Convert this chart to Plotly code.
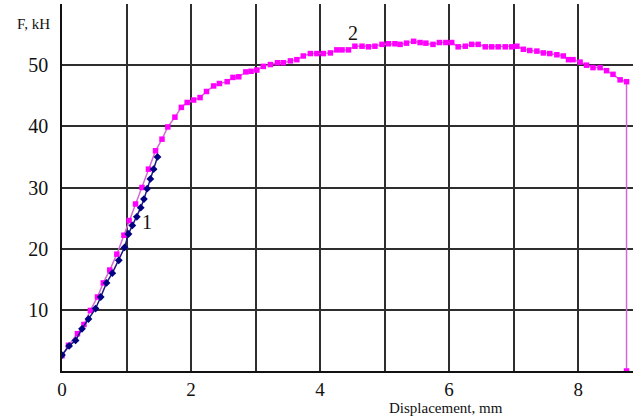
import plotly.graph_objects as go

# Curve 1: load vs displacement
disp_1 = [0, 0.11, 0.21, 0.31, 0.41, 0.52, 0.60, 0.69, 0.78, 0.88, 0.97, 1.03,
          1.09, 1.16, 1.22, 1.27, 1.32, 1.37, 1.42, 1.48]
force_1 = [2.6, 4.1, 5.0, 6.9, 8.5, 10.2, 12.1, 14.4, 16.0, 18.1, 20.2, 22.4,
           23.8, 25.2, 26.7, 28.1, 29.8, 31.4, 33.0, 35.0]

# Curve 2: load vs displacement up to failure
disp_2 = [0, 0.10, 0.24, 0.34, 0.44, 0.55, 0.64, 0.74, 0.85, 0.96, 1.04, 1.14,
          1.24, 1.34, 1.45, 1.55, 1.64, 1.75, 1.85, 1.94, 2.04, 2.14, 2.24, 2.35,
          2.44, 2.56, 2.65, 2.74, 2.85, 2.93, 3.02, 3.12, 3.23, 3.34, 3.43, 3.54,
          3.64, 3.74, 3.85, 3.95, 4.05, 4.16, 4.26, 4.34, 4.44, 4.54, 4.65, 4.75,
          4.85, 4.96, 5.06, 5.16, 5.24, 5.34, 5.45, 5.55, 5.64, 5.75, 5.85, 5.95,
          6.04, 6.14, 6.25, 6.35, 6.45, 6.56, 6.66, 6.76, 6.87, 6.97, 7.05, 7.15,
          7.25, 7.36, 7.46, 7.56, 7.67, 7.77, 7.85, 7.92, 8.03, 8.13, 8.23, 8.34,
          8.44, 8.54, 8.65, 8.75, 8.75]
force_2 = [2.5, 4.2, 6.1, 7.6, 9.9, 12.1, 14.4, 16.5, 19.1, 22.2, 24.6, 27.3,
           30.0, 33.0, 36.0, 37.9, 39.9, 41.5, 43.1, 43.9, 44.3, 44.7, 45.7, 46.6,
           47.0, 47.3, 48.0, 48.1, 48.9, 49.0, 49.2, 49.8, 50.1, 50.4, 50.4, 50.7,
           50.9, 51.5, 51.9, 51.9, 51.9, 52.0, 52.5, 52.5, 52.5, 53.1, 53.1, 53.0,
           53.1, 53.4, 53.5, 53.5, 53.4, 53.6, 53.9, 53.7, 53.6, 53.4, 53.7, 53.7,
           53.7, 53.0, 53.1, 53.4, 53.4, 53.0, 53.0, 53.0, 53.0, 53.0, 53.1, 52.6,
           52.4, 52.3, 52.0, 51.9, 51.7, 51.5, 50.9, 50.9, 50.5, 50.0, 49.6, 49.6,
           49.1, 48.5, 47.6, 47.3, 0]

x_ticks = [0, 1, 2, 3, 4, 5, 6, 7, 8]
x_tick_text = ["0", "", "2", "", "4", "", "6", "", "8"]
y_ticks = [0, 10, 20, 30, 40, 50, 60]
y_tick_text = ["", "10", "20", "30", "40", "50", ""]

SERIF = "Liberation Serif"
GRID = "#2e2e2e"
INK = "#111111"

fig = go.Figure()
fig.add_trace(go.Scatter(
    x=disp_2, y=force_2, mode="lines+markers",
    line=dict(color="#d36ad3", width=1.5),
    marker=dict(symbol="square", size=5.5, color="#ff00ff"),
    showlegend=False,
))
fig.add_trace(go.Scatter(
    x=disp_1, y=force_1, mode="lines+markers",
    line=dict(color="#1a1a80", width=1.5),
    marker=dict(symbol="diamond", size=6, color="#000080"),
    showlegend=False,
))

fig.update_xaxes(
    range=[0, 8.85], tickvals=x_ticks, ticktext=x_tick_text,
    showgrid=True, gridcolor=GRID, gridwidth=1.5,
    showline=True, linecolor=INK, linewidth=1.5,
    ticks="", zeroline=False,
    tickfont=dict(family=SERIF, size=19, color=INK),
)
fig.update_yaxes(
    range=[0, 60], tickvals=y_ticks, ticktext=y_tick_text,
    showgrid=True, gridcolor=GRID, gridwidth=1.5,
    showline=True, linecolor=INK, linewidth=1.5,
    ticks="", zeroline=False, ticklabelstandoff=8,
    tickfont=dict(family=SERIF, size=20, color=INK),
)

fig.add_annotation(text="F, kH", xref="paper", yref="paper", x=-0.05, y=0.945,
                   xanchor="center", yanchor="middle", showarrow=False,
                   font=dict(family=SERIF, size=15, color=INK))
# axis title pinned to the bottom edge of the page
fig.add_annotation(text="Displacement, mm", xref="paper", yref="paper",
                   x=0.672, y=-46 / 366, xanchor="center", yanchor="bottom",
                   borderpad=0, showarrow=False,
                   font=dict(family=SERIF, size=15, color=INK))
fig.add_annotation(text="1", x=1.32, y=24.3, showarrow=False,
                   font=dict(family=SERIF, size=20, color=INK))
fig.add_annotation(text="2", x=4.51, y=55.2, showarrow=False,
                   font=dict(family=SERIF, size=20, color=INK))

fig.update_layout(
    width=633, height=417,
    margin=dict(l=62, r=0, t=4, b=46),
    paper_bgcolor="white", plot_bgcolor="white",
)

fig.write_html("out.html")
